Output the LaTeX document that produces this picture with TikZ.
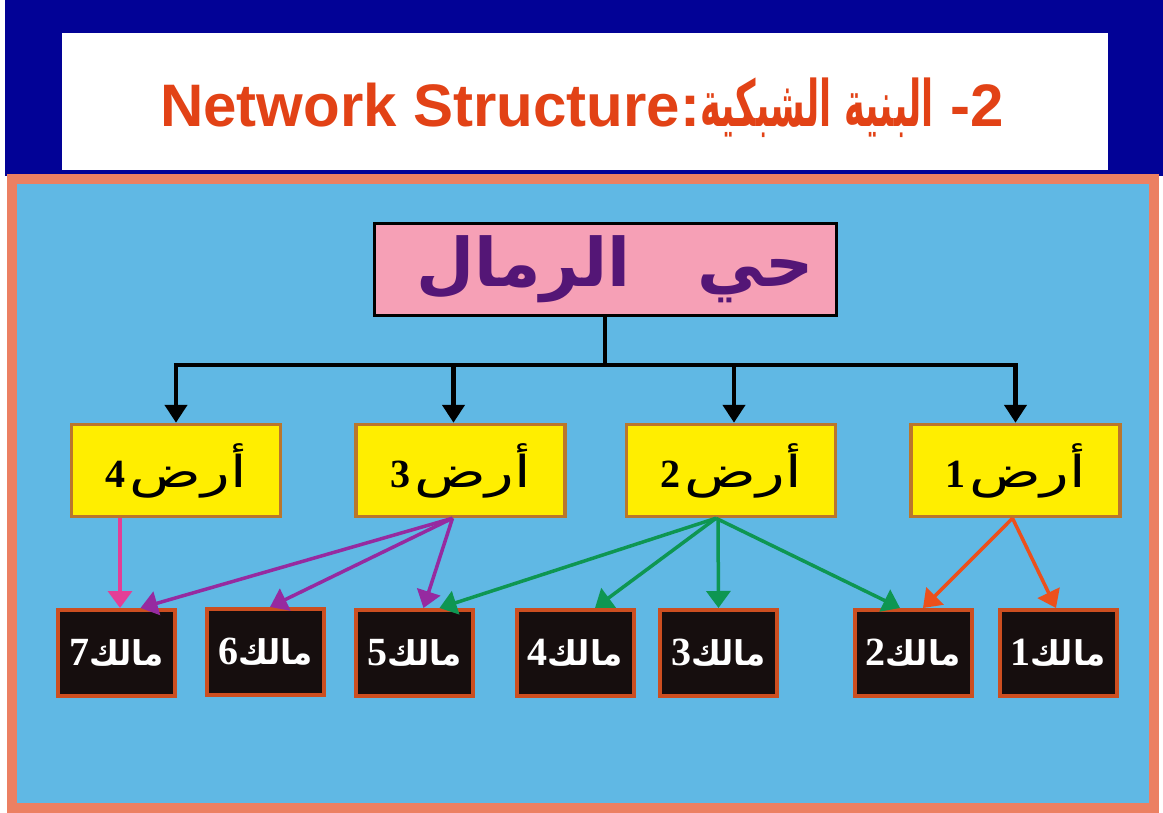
\documentclass[tikz,border=0pt]{standalone}
\usepackage{fontspec}
\usepackage{graphicx}
\usetikzlibrary{arrows.meta}
\setmainfont{Liberation Sans}
\newfontfamily\arabicfont[Script=Arabic]{DejaVu Sans}
\newfontfamily\digitfont{Liberation Serif}
\TeXXeTstate=1

\definecolor{navyband}{RGB}{2,2,150}
\definecolor{paneledge}{RGB}{236,128,98}
\definecolor{panelblue}{RGB}{96,184,228}
\definecolor{titlered}{RGB}{226,66,22}
\definecolor{rootpink}{RGB}{246,160,182}
\definecolor{rootink}{RGB}{84,22,118}
\definecolor{landyellow}{RGB}{255,238,0}
\definecolor{landedge}{RGB}{186,118,44}
\definecolor{ownerblack}{RGB}{22,14,14}
\definecolor{owneredge}{RGB}{204,78,32}
\definecolor{linkpink}{RGB}{228,62,150}
\definecolor{linkpurple}{RGB}{150,42,160}
\definecolor{linkgreen}{RGB}{14,150,82}
\definecolor{linkorange}{RGB}{236,80,28}

\tikzset{
  rootbox/.style={draw=black, line width=3pt, fill=rootpink, inner sep=0pt,
    minimum width=462pt, minimum height=92pt},
  landbox/.style={draw=landedge, line width=3.5pt, fill=landyellow, inner sep=0pt,
    minimum width=209pt, minimum height=92pt},
  ownerbox/.style={draw=owneredge, line width=4pt, fill=ownerblack, inner sep=0pt,
    minimum width=117pt, minimum height=86pt, text=white},
  trunk/.style={line width=4.5pt, draw=black},
  branch/.style={trunk, -{Triangle[length=18pt,width=22pt]}},
  link/.style={line width=3.5pt, -{Triangle[length=17pt,width=24pt]}},
}

\newcommand{\landlabel}[1]{{\fontsize{40}{48}\selectfont\digitfont\bfseries #1}\hspace{4pt}\scalebox{1.35}[1]{\fontsize{44}{48}\selectfont\arabicfont\beginR أرض\endR}}
\newcommand{\ownerlabel}[1]{{\fontsize{40}{40}\selectfont\digitfont\bfseries #1}\scalebox{1.05}[1.1]{\fontsize{31}{40}\selectfont\arabicfont\bfseries\beginR مالك\endR}}

\begin{document}
\begin{tikzpicture}[x=1pt,y=-1pt]
  % page and frames
  \fill[white] (0,0) rectangle (1163,813);
  \useasboundingbox (0,0) rectangle (1163,813);
  \fill[navyband] (5,0) rectangle (1163,176);
  \fill[white] (62,33) rectangle (1108,170);
  \draw[paneledge, line width=10pt, fill=panelblue] (12,179) rectangle (1154,808);

  % heading
  \node[anchor=base, text=titlered, inner sep=0pt] (title) at (582,127)
    {\fontsize{60}{64}\selectfont\bfseries Network Structure:\scalebox{0.55}[1]{\fontsize{64}{64}\selectfont\arabicfont\bfseries\beginR البنية الشبكية\endR} -2};

  % root
  \node[rootbox] (root) at (605,269.5)
    {\hspace*{20pt}\fontsize{67}{70}\selectfont\arabicfont\bfseries\color{rootink}\beginR حي\quad الرمال\endR};

  % lands
  \node[landbox] (land4) at (176,470.5) {\landlabel{4}};
  \node[landbox] (land3) at (460.5,470.5) {\landlabel{3}};
  \node[landbox] (land2) at (731,470.5) {\landlabel{2}};
  \node[landbox] (land1) at (1015.5,470.5) {\landlabel{1}};

  % owners
  \node[ownerbox] (own7) at (116.5,653) {\ownerlabel{7}};
  \node[ownerbox] (own6) at (265.5,652) {\ownerlabel{6}};
  \node[ownerbox] (own5) at (414.5,653) {\ownerlabel{5}};
  \node[ownerbox] (own4) at (575,653) {\ownerlabel{4}};
  \node[ownerbox] (own3) at (718.5,653) {\ownerlabel{3}};
  \node[ownerbox] (own2) at (913,653) {\ownerlabel{2}};
  \node[ownerbox] (own1) at (1058,653) {\ownerlabel{1}};

  % tree from the district to the lands
  \draw[trunk] (root.south) -- ++(0,48) coordinate (hub);
  \coordinate (busL) at (hub -| land4.north);
  \coordinate (busR) at (hub -| land1.north);
  \draw[trunk] ([xshift=-2.25pt]busL) -- ([xshift=2.25pt]busR);
  \draw[branch] (busL) -- (land4.north);
  \draw[branch] ([xshift=-7pt]land3.north |- hub) -- ([xshift=-7pt]land3.north);
  \draw[branch] ([xshift=3pt]land2.north |- hub) -- ([xshift=3pt]land2.north);
  \draw[branch] (busR) -- (land1.north);

  % land 4
  \draw[link, linkpink] ([xshift=-56pt]land4.south) -- ([xshift=3.5pt]own7.north);
  % land 3
  \draw[link, linkpurple] ([xshift=-8pt]land3.south) -- ([xshift=24pt]own7.north);
  \draw[link, linkpurple] ([xshift=-8pt]land3.south) -- ([xshift=4.5pt]own6.north);
  \draw[link, linkpurple] ([xshift=-8pt]land3.south) -- ([xshift=9pt]own5.north);
  % land 2
  \draw[link, linkgreen] ([xshift=-15pt]land2.south) -- ([xshift=25pt]own5.north);
  \draw[link, linkgreen] ([xshift=-15pt]land2.south) -- ([xshift=20pt]own4.north);
  \draw[link, linkgreen] ([xshift=-13pt]land2.south) -- ([xshift=0pt]own3.north);
  \draw[link, linkgreen] ([xshift=-15pt]land2.south) -- ([xshift=-13pt]own2.north);
  % land 1
  \draw[link, linkorange] ([xshift=-3pt]land1.south) -- ([xshift=10pt]own2.north);
  \draw[link, linkorange] ([xshift=-3pt]land1.south) -- ([xshift=-2pt]own1.north);
\end{tikzpicture}
\end{document}
